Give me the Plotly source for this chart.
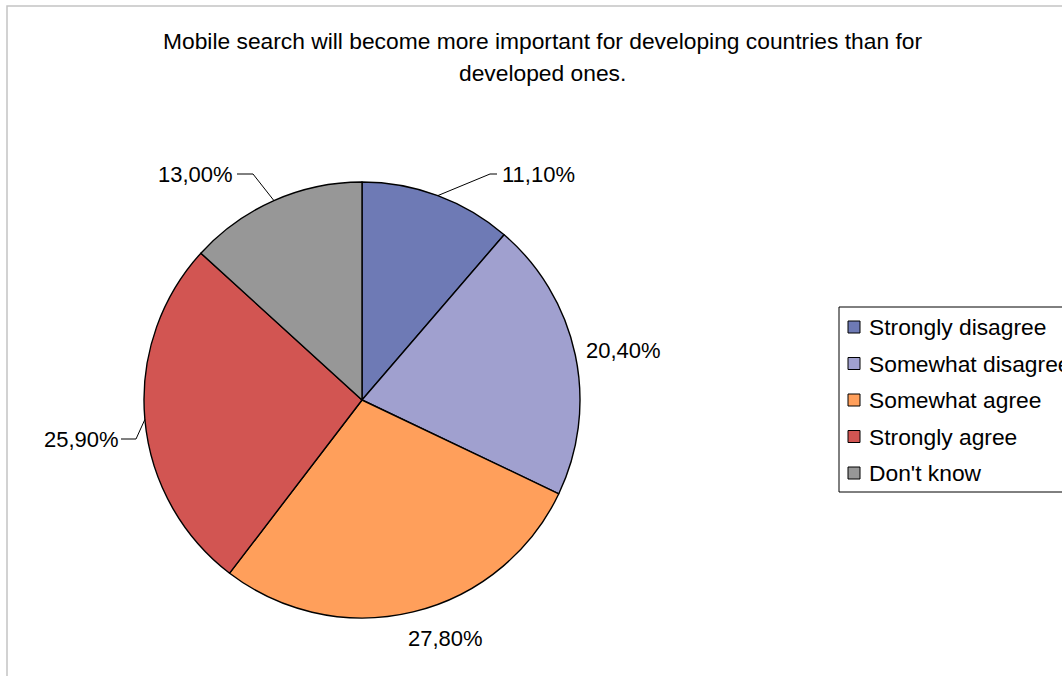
import math
import plotly.graph_objects as go

# Survey answers and their shares (percent)
categories = ["Strongly disagree", "Somewhat disagree", "Somewhat agree", "Strongly agree", "Don't know"]
shares = [11.1, 20.4, 27.8, 25.9, 13.0]
share_labels = ["11,10%", "20,40%", "27,80%", "25,90%", "13,00%"]
colors = ["#6E7AB5", "#A0A0CF", "#FF9F5B", "#D25552", "#979797"]
title_lines = [
    "Mobile search will become more important for developing countries than for",
    "developed ones.",
]

W, H = 1062, 676
FONT = "Arial, Liberation Sans, sans-serif"

# pie geometry in pixels
CX, CY, R = 362, 400, 218


def px(x):
    return x / W


def py(y):
    return 1 - y / H


fig = go.Figure(
    go.Pie(
        labels=categories,
        values=shares,
        sort=False,
        direction="clockwise",
        rotation=0,
        textinfo="none",
        hovertemplate="%{label}: %{value}%<extra></extra>",
        marker=dict(colors=colors, line=dict(color="#000000", width=1.4)),
        domain=dict(x=[px(CX - R), px(CX + R)], y=[py(CY + R), py(CY - R)]),
        showlegend=False,
    )
)

# mid-angle of each slice (clockwise from 12 o'clock), derived from the shares
total = sum(shares)
mid_angles = []
acc = 0.0
for v in shares:
    mid_angles.append((acc + v / 2) / total * 2 * math.pi)
    acc += v

# label placement: text centre and optional leader elbow/end (pixels)
label_pos = [(538, 175), (623, 350), (445, 638), (81, 439), (195, 174)]
leaders = [((490, 174), (497, 174)), None, None, ((136, 439), (121, 439)), ((253, 174), (237, 174))]

shapes = []
annotations = []
for ang, text, pos, lead in zip(mid_angles, share_labels, label_pos, leaders):
    annotations.append(dict(
        x=px(pos[0]), y=py(pos[1]), xref="paper", yref="paper",
        text=text, showarrow=False, xanchor="center", yanchor="middle",
        font=dict(family=FONT, size=22, color="#000000"),
    ))
    if lead:
        ex = CX + R * math.sin(ang)
        ey = CY - R * math.cos(ang)
        (bx, by), (tx, ty) = lead
        shapes.append(dict(
            type="path", xref="paper", yref="paper",
            path=f"M {px(ex)},{py(ey)} L {px(bx)},{py(by)} L {px(tx)},{py(ty)}",
            line=dict(color="#000000", width=1),
        ))

# title, one annotation per line
for i, line in enumerate(title_lines):
    annotations.append(dict(
        x=px(542), y=py(41 + 32 * i), xref="paper", yref="paper",
        text=line, showarrow=False, xanchor="center", yanchor="middle",
        font=dict(family=FONT, size=22.8, color="#000000"),
    ))

# chart frame
shapes.append(dict(type="rect", xref="paper", yref="paper",
                   x0=px(7), y0=py(6), x1=px(W + 20), y1=py(H + 20),
                   line=dict(color="#C4C4C4", width=1.5), layer="below"))

# legend box
shapes.append(dict(type="rect", xref="paper", yref="paper",
                   x0=px(839), y0=py(307), x1=px(W + 20), y1=py(492),
                   line=dict(color="#000000", width=1)))
for i, (name, col) in enumerate(zip(categories, colors)):
    ry = 327 + 36.5 * i
    shapes.append(dict(type="rect", xref="paper", yref="paper",
                       x0=px(848), x1=px(860), y0=py(ry - 6), y1=py(ry + 6),
                       fillcolor=col, line=dict(color="#000000", width=1)))
    annotations.append(dict(
        x=px(867), y=py(ry), xref="paper", yref="paper",
        text=name, showarrow=False, xanchor="left", yanchor="middle",
        font=dict(family=FONT, size=22.8, color="#000000"),
    ))

fig.update_layout(
    width=W, height=H,
    margin=dict(l=0, r=0, t=0, b=0),
    paper_bgcolor="#FFFFFF", plot_bgcolor="#FFFFFF",
    shapes=shapes, annotations=annotations,
    showlegend=False,
)

fig.write_html("out.html")
